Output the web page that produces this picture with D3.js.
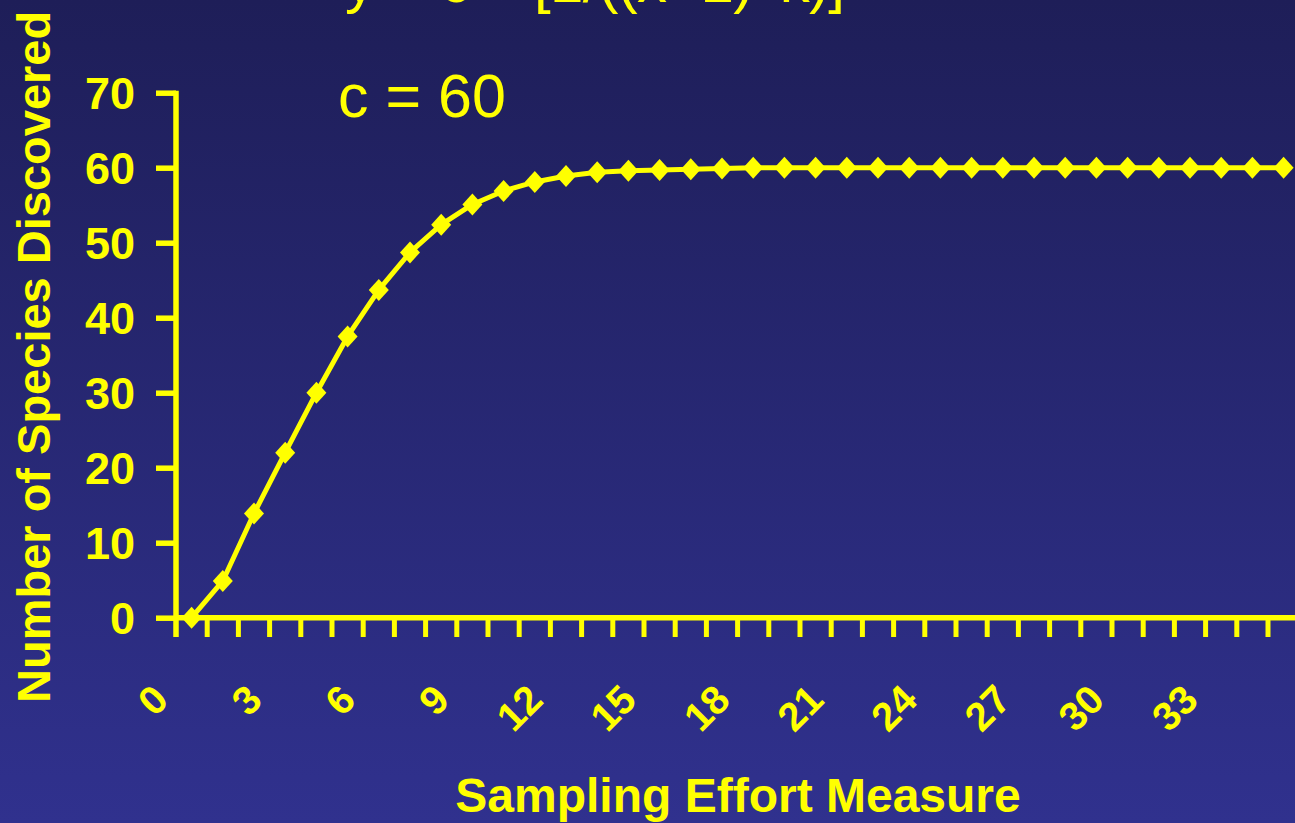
<!DOCTYPE html>
<html>
<head>
<meta charset="utf-8">
<script src="https://cdn.jsdelivr.net/npm/d3@7"></script>
<style>
html,body{margin:0;padding:0;overflow:hidden;background:#26266f;}
svg{display:block;}
text{font-family:"Liberation Sans",Arial,Helvetica,sans-serif;fill:#ffff00;}
</style>
</head>
<body>
<svg id="chart" width="1295" height="823"></svg>
<script>
// ---- data ----
const categories = d3.range(0, 36);            // sampling effort 0..35
const speciesValues = [0, 4.9, 13.9, 22.0, 30.0, 37.5, 43.7, 48.7, 52.4, 55.1,
  56.9, 58.1, 58.9, 59.4, 59.6, 59.7, 59.8, 59.9, 60, 60,
  60, 60, 60, 60, 60, 60, 60, 60, 60, 60,
  60, 60, 60, 60, 60, 60];
const xTickLabels = [0, 3, 6, 9, 12, 15, 18, 21, 24, 27, 30, 33];
const yTickValues = [0, 10, 20, 30, 40, 50, 60, 70];
const titleText = "y = c – [1/((x+1)^k)]";
const annotationText = "c = 60";
const xAxisTitle = "Sampling Effort Measure";
const yAxisTitle = "Number of Species Discovered";

const W = 1295, H = 823;
const YEL = "#ffff00";
const svg = d3.select("#chart");

// background gradient
const defs = svg.append("defs");
const grad = defs.append("linearGradient").attr("id", "bg").attr("x1", 0).attr("y1", 0).attr("x2", 0).attr("y2", 1);
grad.append("stop").attr("offset", "0%").attr("stop-color", "#1e1e58");
grad.append("stop").attr("offset", "100%").attr("stop-color", "#30318e");
svg.append("rect").attr("width", W).attr("height", H).attr("fill", "url(#bg)");

// scales
const x = d3.scaleBand().domain(categories).range([176, 176 + 36 * 31.2]).padding(0);
const y = d3.scaleLinear().domain([0, 70]).range([617.7, 92.7]);

// title (cropped at top edge, as in the source slide)
svg.append("text").attr("x", 345).attr("y", 2)
  .attr("font-size", 60).attr("textLength", 500).attr("lengthAdjust", "spacing").text(titleText);

// annotation
svg.append("text").attr("x", 338).attr("y", 117)
  .attr("font-size", 61).text(annotationText);

// y axis
const yAxis = d3.axisLeft(y).tickValues(yTickValues).tickSize(20).tickPadding(21).tickFormat(d3.format("d"));
const gy = svg.append("g").attr("transform", "translate(176,0)").call(yAxis);
gy.select(".domain").remove();
gy.selectAll(".tick line").attr("stroke", YEL).attr("stroke-width", 5.5);
gy.selectAll(".tick text").attr("fill", YEL).attr("font-size", 45).attr("font-weight", "bold")
  .attr("font-family", "'Liberation Sans',Arial,sans-serif").attr("dy", "0.36em");
gy.append("line").attr("x1", 0).attr("x2", 0).attr("y1", y(70) - 2).attr("y2", 637)
  .attr("stroke", YEL).attr("stroke-width", 5.5);

// x axis : ticks at category boundaries
const boundaries = categories.slice(1).map(c => x(c));
const gx = svg.append("g");
gx.append("line").attr("x1", 176).attr("x2", W + 10).attr("y1", y(0)).attr("y2", y(0))
  .attr("stroke", YEL).attr("stroke-width", 5.5);
gx.selectAll("line.tk").data(boundaries).join("line").attr("class", "tk")
  .attr("x1", d => d).attr("x2", d => d).attr("y1", y(0)).attr("y2", 637)
  .attr("stroke", YEL).attr("stroke-width", 5);
gx.selectAll("text.xl").data(xTickLabels).join("text").attr("class", "xl")
  .attr("transform", d => `translate(${x(d) + x.bandwidth() / 2 - 21},702) rotate(-45)`)
  .attr("text-anchor", "end").attr("font-size", 40).attr("font-weight", "bold").text(d => d);

// line + markers
const cx = d => x(d) + x.bandwidth() / 2;
const pts = categories.map((c, i) => [cx(c), y(speciesValues[i])]);
svg.append("path").attr("d", d3.line()(pts)).attr("fill", "none")
  .attr("stroke", YEL).attr("stroke-width", 5).attr("stroke-linejoin", "round");
svg.selectAll("path.mk").data(pts).join("path").attr("class", "mk")
  .attr("d", p => `M${p[0]},${p[1] - 11}L${p[0] + 10},${p[1]}L${p[0]},${p[1] + 11}L${p[0] - 10},${p[1]}Z`)
  .attr("fill", YEL);

// axis titles
svg.append("text").attr("x", 738).attr("y", 812).attr("text-anchor", "middle")
  .attr("font-size", 48).attr("font-weight", "bold").text(xAxisTitle);
svg.append("text").attr("transform", "translate(50,703) rotate(-90)")
  .attr("text-anchor", "start").attr("font-size", 47).attr("font-weight", "bold").text(yAxisTitle);
</script>
</body>
</html>
